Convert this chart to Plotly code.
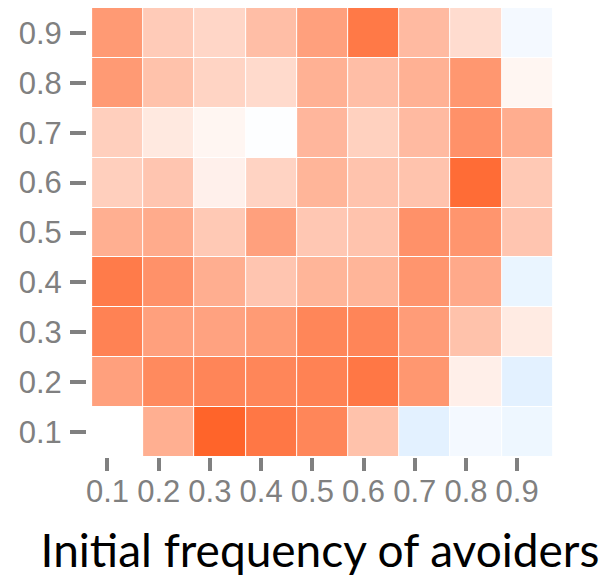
import plotly.graph_objects as go

# Initial frequency of avoiders (x) and the other frequency axis (y)
x_levels = [0.1, 0.2, 0.3, 0.4, 0.5, 0.6, 0.7, 0.8, 0.9]
y_levels = [0.1, 0.2, 0.3, 0.4, 0.5, 0.6, 0.7, 0.8, 0.9]
tick_labels = ["0.1", "0.2", "0.3", "0.4", "0.5", "0.6", "0.7", "0.8", "0.9"]

# Cell values, one list per y level (bottom row 0.1 first), columns x = 0.1 .. 0.9
row_01 = [0.00, 0.43, 0.835, 0.73, 0.65, 0.33, -0.124, -0.05, -0.076]
row_02 = [0.51, 0.63, 0.655, 0.65, 0.67, 0.73, 0.56, 0.086, -0.124]
row_03 = [0.67, 0.51, 0.50, 0.54, 0.65, 0.655, 0.53, 0.33, 0.11]
row_04 = [0.71, 0.59, 0.435, 0.31, 0.40, 0.40, 0.57, 0.46, -0.093]
row_05 = [0.43, 0.45, 0.29, 0.51, 0.30, 0.32, 0.59, 0.57, 0.31]
row_06 = [0.26, 0.31, 0.08, 0.235, 0.40, 0.32, 0.32, 0.79, 0.29]
row_07 = [0.26, 0.12, 0.05, -0.01, 0.39, 0.25, 0.37, 0.59, 0.44]
row_08 = [0.545, 0.33, 0.23, 0.20, 0.42, 0.35, 0.42, 0.56, 0.05]
row_09 = [0.545, 0.278, 0.22, 0.35, 0.51, 0.72, 0.37, 0.19, -0.05]

z = [row_01, row_02, row_03, row_04, row_05, row_06, row_07, row_08, row_09]

tick_gray = "#808080"

fig = go.Figure(
    go.Heatmap(
        x=x_levels,
        y=y_levels,
        z=z,
        zmin=-1,
        zmax=1,
        zmid=0,
        colorscale=[[0.0, "#1E90FF"], [0.5, "#FFFFFF"], [1.0, "#FF4500"]],
        showscale=False,
        xgap=1,
        ygap=1,
        hoverongaps=False,
    )
)

# the page body has an 8px default margin, so the figure is 8px smaller
fig.update_layout(
    width=600,
    height=569,
    margin=dict(l=79, r=55, t=0, b=120, autoexpand=False),
    paper_bgcolor="white",
    plot_bgcolor="white",
    font=dict(family="Liberation Sans, Arial, sans-serif"),
)

fig.update_xaxes(
    range=[0.04, 0.95],
    automargin=False,
    tickmode="array",
    tickvals=[v - 0.02 for v in x_levels],
    ticktext=tick_labels,
    ticks="outside",
    ticklen=13,
    tickwidth=4,
    tickcolor=tick_gray,
    tickfont=dict(size=31, color=tick_gray, family="Liberation Sans, Arial, sans-serif"),
    ticklabelstandoff=-6,
    showgrid=False,
    zeroline=False,
    showline=False,
    title=dict(
        text="Initial frequency of avoiders",
        font=dict(size=46, color="black", family="Lato, Carlito, sans-serif"),
        standoff=28,
    ),
)

fig.update_yaxes(
    range=[0.05, 0.95],
    automargin=False,
    tickmode="array",
    tickvals=y_levels,
    ticktext=tick_labels,
    ticks="outside",
    ticklen=16,
    tickwidth=4,
    tickcolor=tick_gray,
    tickfont=dict(size=31, color=tick_gray, family="Liberation Sans, Arial, sans-serif"),
    ticklabelstandoff=2,
    showgrid=False,
    zeroline=False,
    showline=False,
)

fig.write_html("out.html")
